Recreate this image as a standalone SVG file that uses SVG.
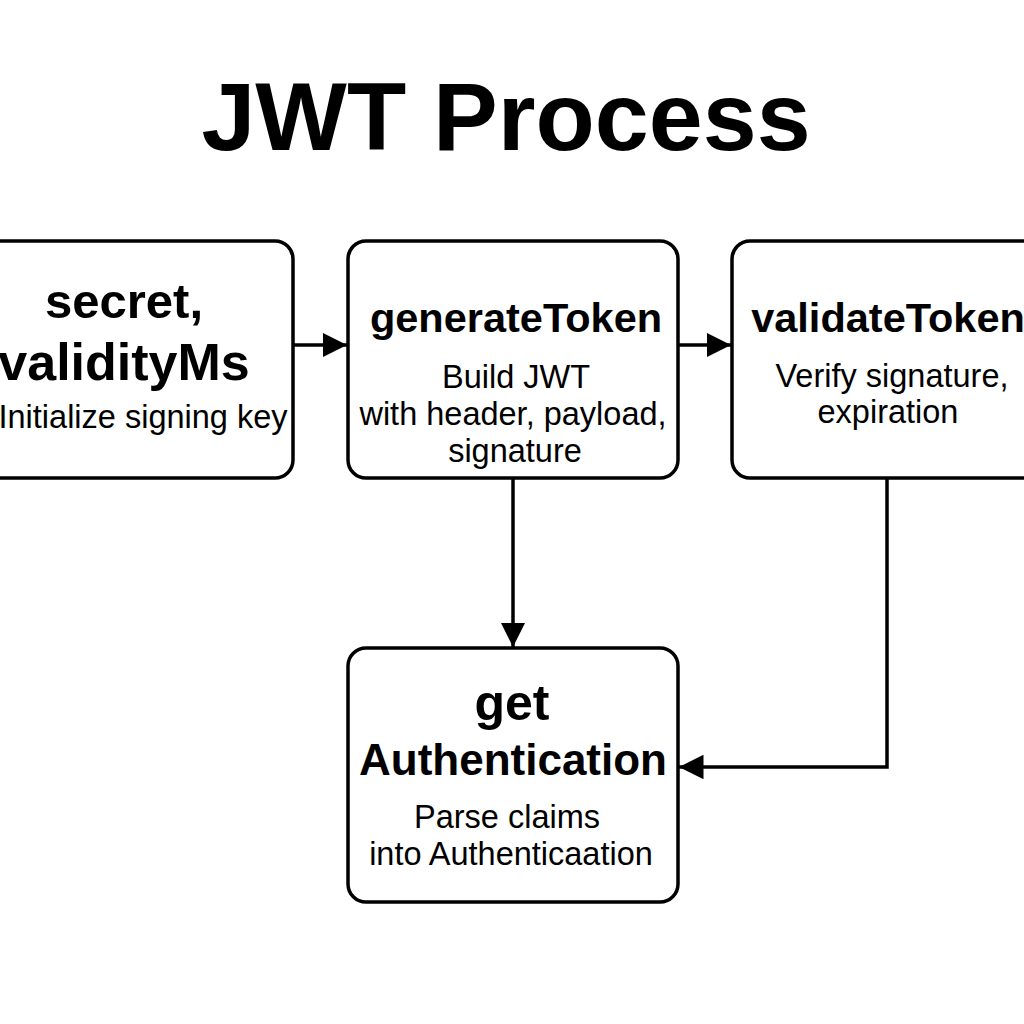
<svg xmlns="http://www.w3.org/2000/svg" width="1024" height="1024" viewBox="0 0 1024 1024">
<style>
.box{fill:#fff;stroke:#000;stroke-width:3.5}
.t{font-family:"Liberation Sans",Arial,sans-serif;fill:#000;text-anchor:middle}
.b{font-weight:bold}
.s{font-size:32.5px}
.edge{fill:none;stroke:#000;stroke-width:3.5}
</style>
<defs>
<marker id="arr" viewBox="0 0 10 10" refX="10" refY="5" markerWidth="7" markerHeight="7" markerUnits="strokeWidth" orient="auto">
<path d="M0,0 L10,5 L0,10 z" fill="#000"/>
</marker>
</defs>
<rect width="1024" height="1024" fill="#fff"/>
<text class="t b" x="506" y="150" font-size="97">JWT Process</text>
<g id="connectors">
<line class="edge" x1="293" y1="345" x2="347" y2="345" marker-end="url(#arr)"/>
<line class="edge" x1="678" y1="345" x2="731" y2="345" marker-end="url(#arr)"/>
<line class="edge" x1="513" y1="478" x2="513" y2="647" marker-end="url(#arr)"/>
<polyline class="edge" points="887,478 887,767 679,767" marker-end="url(#arr)"/>
</g>
<g id="init">
<rect class="box" x="-40" y="241" width="333" height="237" rx="18"/>
<text class="t b" x="124" y="318" font-size="49">secret,</text>
<text class="t b" x="124" y="380" font-size="52">validityMs</text>
<text class="t s" x="143" y="428">Initialize signing key</text>
</g>
<g id="generateToken">
<rect class="box" x="348" y="241" width="330" height="237" rx="18"/>
<text class="t b" x="516" y="332" font-size="41.5">generateToken</text>
<text class="t s" x="516" y="388">Build JWT</text>
<text class="t s" x="513" y="425">with header, payload,</text>
<text class="t s" x="515" y="462">signature</text>
</g>
<g id="validateToken">
<rect class="box" x="732" y="241" width="330" height="237" rx="18"/>
<text class="t b" x="888" y="332" font-size="41.5">validateToken</text>
<text class="t s" x="892" y="387">Verify signature,</text>
<text class="t s" x="888" y="423">expiration</text>
</g>
<g id="getAuthentication">
<rect class="box" x="348" y="648" width="330" height="254" rx="18"/>
<text class="t b" x="512" y="720" font-size="50">get</text>
<text class="t b" x="513" y="775" font-size="44">Authentication</text>
<text class="t s" x="507" y="828">Parse claims</text>
<text class="t s" x="511" y="865">into Authenticaation</text>
</g>
</svg>
